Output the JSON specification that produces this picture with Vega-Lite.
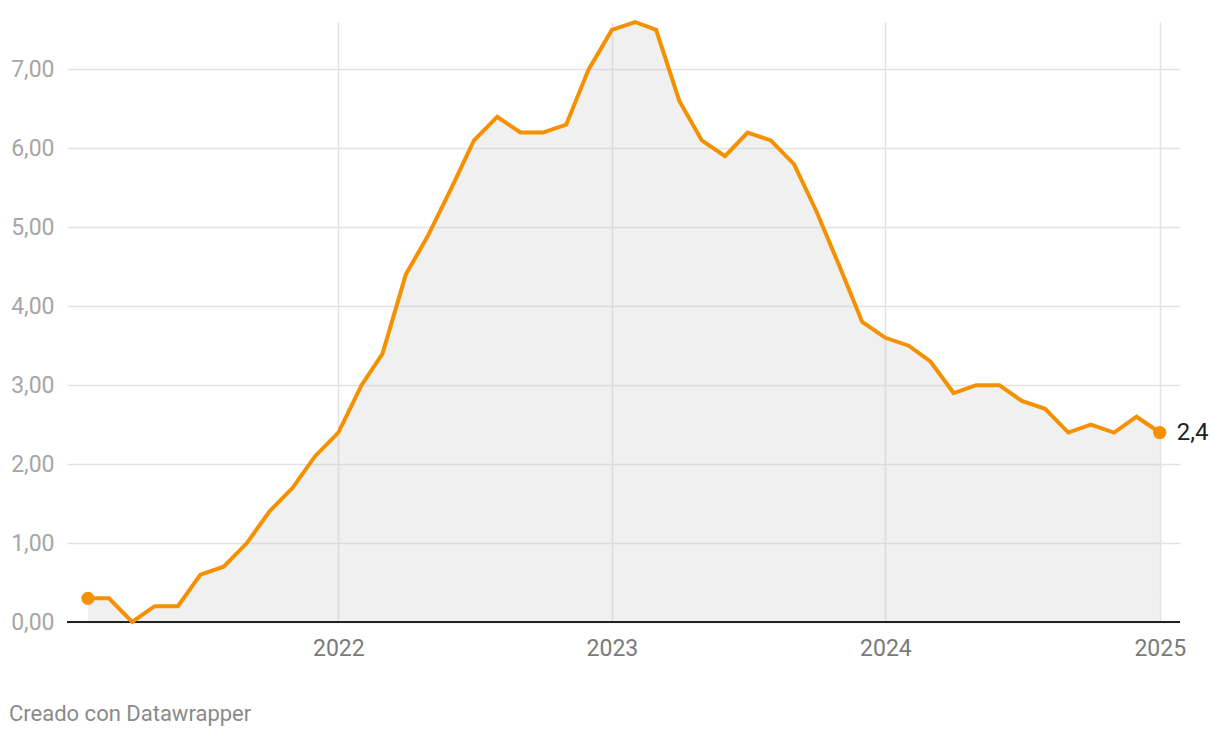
{
  "$schema": "https://vega.github.io/schema/vega-lite/v6.json",
  "width": 1113,
  "height": 600,
  "autosize": "none",
  "padding": {"left": 67, "top": 22, "right": 40, "bottom": 116},
  "background": "#ffffff",
  "config": {
    "view": {"stroke": null},
    "font": "Roboto",
    "locale": {"number": {"decimal": ",", "thousands": ".", "grouping": [3], "currency": ["", " €"]}}
  },
  "title": {
    "text": "Creado con Datawrapper",
    "orient": "bottom",
    "anchor": "start",
    "frame": "group",
    "dx": -58,
    "offset": 44,
    "fontSize": 22,
    "fontWeight": "normal",
    "color": "#8a8a8a",
    "font": "Roboto"
  },
  "data": {
    "values": [
      {"date": "2021-02-01", "value": 0.3},
      {"date": "2021-03-01", "value": 0.3},
      {"date": "2021-04-01", "value": 0.0},
      {"date": "2021-05-01", "value": 0.2},
      {"date": "2021-06-01", "value": 0.2},
      {"date": "2021-07-01", "value": 0.6},
      {"date": "2021-08-01", "value": 0.7},
      {"date": "2021-09-01", "value": 1.0},
      {"date": "2021-10-01", "value": 1.4},
      {"date": "2021-11-01", "value": 1.7},
      {"date": "2021-12-01", "value": 2.1},
      {"date": "2022-01-01", "value": 2.4},
      {"date": "2022-02-01", "value": 3.0},
      {"date": "2022-03-01", "value": 3.4},
      {"date": "2022-04-01", "value": 4.4},
      {"date": "2022-05-01", "value": 4.9},
      {"date": "2022-06-01", "value": 5.5},
      {"date": "2022-07-01", "value": 6.1},
      {"date": "2022-08-01", "value": 6.4},
      {"date": "2022-09-01", "value": 6.2},
      {"date": "2022-10-01", "value": 6.2},
      {"date": "2022-11-01", "value": 6.3},
      {"date": "2022-12-01", "value": 7.0},
      {"date": "2023-01-01", "value": 7.5},
      {"date": "2023-02-01", "value": 7.6},
      {"date": "2023-03-01", "value": 7.5},
      {"date": "2023-04-01", "value": 6.6},
      {"date": "2023-05-01", "value": 6.1},
      {"date": "2023-06-01", "value": 5.9},
      {"date": "2023-07-01", "value": 6.2},
      {"date": "2023-08-01", "value": 6.1},
      {"date": "2023-09-01", "value": 5.8},
      {"date": "2023-10-01", "value": 5.2},
      {"date": "2023-11-01", "value": 4.5},
      {"date": "2023-12-01", "value": 3.8},
      {"date": "2024-01-01", "value": 3.6},
      {"date": "2024-02-01", "value": 3.5},
      {"date": "2024-03-01", "value": 3.3},
      {"date": "2024-04-01", "value": 2.9},
      {"date": "2024-05-01", "value": 3.0},
      {"date": "2024-06-01", "value": 3.0},
      {"date": "2024-07-01", "value": 2.8},
      {"date": "2024-08-01", "value": 2.7},
      {"date": "2024-09-01", "value": 2.4},
      {"date": "2024-10-01", "value": 2.5},
      {"date": "2024-11-01", "value": 2.4},
      {"date": "2024-12-01", "value": 2.6},
      {"date": "2025-01-01", "value": 2.4}
    ],
    "format": {"parse": {"date": "date"}}
  },
  "encoding": {
    "x": {
      "field": "date",
      "type": "temporal",
      "scale": {
        "type": "utc",
        "domain": [
          {"year": 2021, "month": 1, "date": 4, "utc": true},
          {"year": 2025, "month": 1, "date": 28, "utc": true}
        ]
      },
      "axis": {
        "title": null,
        "format": "%Y",
        "tickCount": "year",
        "domain": false,
        "ticks": false,
        "tickSize": 0,
        "labelPadding": 15,
        "labelFontSize": 23,
        "labelFont": "Roboto",
        "labelColor": "#7a7a7a",
        "grid": true,
        "gridColor": "#e2e2e2",
        "gridWidth": 1.5
      }
    },
    "y": {
      "field": "value",
      "type": "quantitative",
      "scale": {"domain": [0, 7.6], "nice": false, "zero": true},
      "axis": {
        "title": null,
        "values": [0, 1, 2, 3, 4, 5, 6, 7],
        "format": ".2f",
        "domain": false,
        "ticks": false,
        "tickSize": 0,
        "labelPadding": 13,
        "labelFontSize": 23,
        "labelFont": "Roboto",
        "labelColor": "#a6a6a6",
        "labelBaseline": "middle",
        "grid": true,
        "gridColor": "#e2e2e2",
        "gridWidth": 1.5
      }
    }
  },
  "layer": [
    {
      "mark": {"type": "area", "color": "#c8c8c8", "opacity": 0.28}
    },
    {
      "mark": {"type": "rule", "color": "#222222", "strokeWidth": 2.2},
      "encoding": {"y": {"datum": 0}, "x": null}
    },
    {
      "mark": {"type": "line", "color": "#f59100", "strokeWidth": 4, "strokeJoin": "miter"}
    },
    {
      "transform": [{"filter": "(utcyear(datum.date) == 2021 && utcmonth(datum.date) == 1) || utcyear(datum.date) == 2025"}],
      "mark": {"type": "point", "filled": true, "shape": "circle", "size": 175, "color": "#f59100", "opacity": 1}
    },
    {
      "transform": [{"filter": "utcyear(datum.date) == 2025"}],
      "mark": {"type": "text", "align": "left", "baseline": "middle", "dx": 17, "fontSize": 24, "font": "Roboto", "color": "#222222"},
      "encoding": {"text": {"field": "value", "type": "quantitative", "format": ".1f"}}
    }
  ]
}
